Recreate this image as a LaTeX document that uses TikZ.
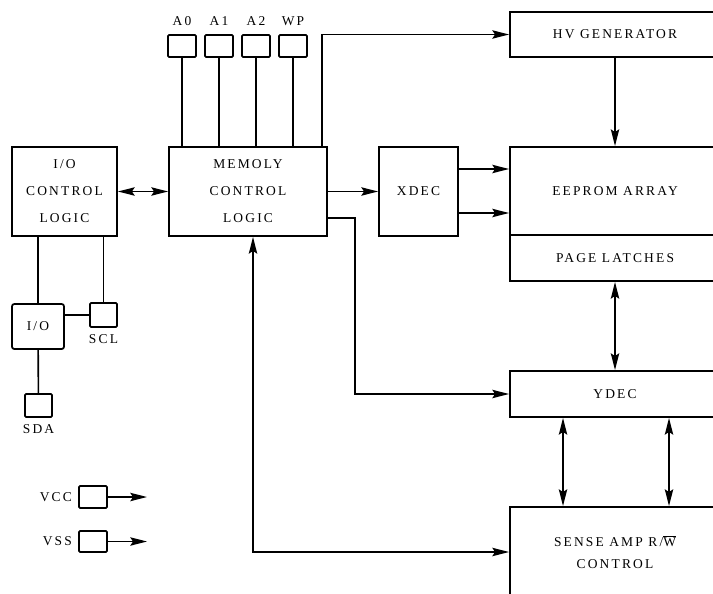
\documentclass[tikz,border=0pt]{standalone}
\usepackage{fontspec}
\setmainfont{Liberation Serif}[LetterSpace=16]
\usepackage{tikz}
\usetikzlibrary{positioning,arrows.meta}

\begin{document}
\begin{tikzpicture}[
    x=0.03cm, y=-0.03cm,
    >={Stealth[length=5mm,width=2.5mm,inset=0.8mm]},
    wire/.style={line width=1.4pt},
    blk/.style={
        draw, line width=1.6pt,
        inner sep=0pt,
        align=center,
        font=\fontsize{11.5}{23}\selectfont
    },
    wide/.style={blk, minimum width=6.3cm},
    pin/.style={draw, line width=1.5pt, rounded corners=1pt,
        inner sep=0pt, minimum width=0.84cm, minimum height=0.66cm},
    lbl/.style={font=\fontsize{11.5}{12}\selectfont, inner sep=0pt}
]
\useasboundingbox (0,0) rectangle (713,593);

% ---- Control blocks ----
\node[blk, minimum width=3.15cm, minimum height=2.67cm] (ioc) at (64.5,191.5)
{I/O\\CONTROL\\LOGIC};
\node[blk, minimum width=4.74cm, minimum height=2.67cm] (mcl) at (248,191.5)
{MEMOLY\\CONTROL\\LOGIC};
\node[blk, minimum width=2.37cm, minimum height=2.67cm] (xdec) at (418.5,191.5)
{XDEC};

% ---- Right column ----
\node[wide, minimum height=1.35cm] (hv) at (615,34.5) {HV GENERATOR};
\node[wide, minimum height=2.64cm] (eeprom) at (615,191) {EEPROM ARRAY};
\node[wide, minimum height=1.38cm] (latch) at (615,258) {PAGE LATCHES};
\node[wide, minimum height=1.38cm] (ydec) at (615,394) {YDEC};
\node[wide, minimum height=2.7cm, font=\fontsize{11.5}{19}\selectfont] (sense) at (615,552)
{SENSE AMP R/$\overline{\hbox{W}}$\\CONTROL};

% ---- Pins ----
\node[pin] (a0) at (182,46) {};
\node[pin] (a1) at (219,46) {};
\node[pin] (a2) at (256,46) {};
\node[pin] (wp) at (293,46) {};
\node[lbl, above=0.24cm of a0] {A0};
\node[lbl, above=0.24cm of a1] {A1};
\node[lbl, above=0.24cm of a2] {A2};
\node[lbl, above=0.24cm of wp] {WP};

\node[pin, rounded corners=2pt, minimum width=1.56cm, minimum height=1.35cm,
      font=\fontsize{11.5}{12}\selectfont] (io) at (38,326.5) {I/O};
\node[pin, minimum width=0.81cm, minimum height=0.72cm] (scl) at (103.5,315) {};
\node[pin, minimum width=0.81cm, minimum height=0.69cm] (sda) at (38.5,405.5) {};
\node[lbl, below=0.18cm of scl] {SCL};
\node[lbl, below=0.18cm of sda] {SDA};

\node[pin] (vcc) at (93,497) {};
\node[pin, minimum height=0.63cm] (vss) at (93,541.5) {};
\node[lbl, left=0.18cm of vcc] {VCC};
\node[lbl, left=0.18cm of vss] {VSS};
\coordinate (vccend) at (147,497);
\coordinate (vssend) at (147,541.5);

% ---- Wires ----
\foreach \p in {a0,a1,a2,wp}
    \draw[wire] (\p) -- (\p |- mcl.north);

\draw[wire] (io) -- (io |- ioc.south);
\draw[wire] (scl) -- (scl |- ioc.south);
\draw[wire] (scl.west) -- (io.east |- scl.west);
\draw[wire] (io) -- (sda);

\draw[wire,->] (vcc) -- (vccend);
\draw[wire,->] (vss) -- (vssend);

\draw[wire,<->] (ioc) -- (mcl);
\draw[wire,->] ([xshift=-0.18cm]mcl.north east) |- (hv.west);
\draw[wire,->] (mcl) -- (xdec);

\coordinate (ybend) at (355,218);
\draw[wire,->] (mcl.east |- ybend) -- (ybend) |- (ydec.west);

\draw[wire,->] (xdec.east |- 0,169) -- (eeprom.west |- 0,169);
\draw[wire,->] (xdec.east |- 0,213) -- (eeprom.west |- 0,213);

\draw[wire,->] (hv) -- (eeprom);
\draw[wire,<->] (latch) -- (ydec);
\draw[wire,<->] (ydec.south -| 563,0) -- (sense.north -| 563,0);
\draw[wire,<->] (ydec.south -| 669,0) -- (sense.north -| 669,0);

\draw[wire,<->] (mcl.south -| 253,0) |- (sense.west);

\end{tikzpicture}
\end{document}
